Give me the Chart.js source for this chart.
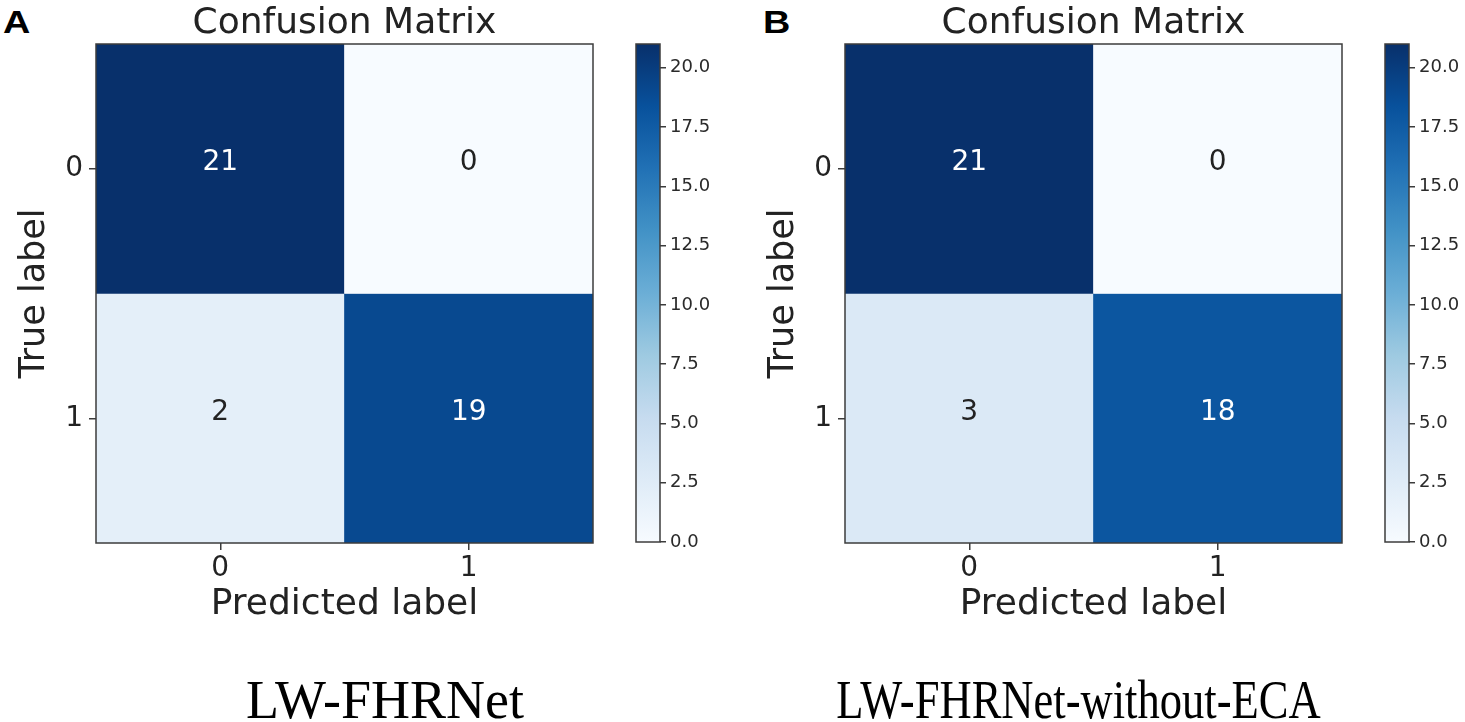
<!DOCTYPE html>
<html>
<head>
<meta charset="utf-8">
<script src="https://cdn.jsdelivr.net/npm/chart.js@4.4.1/dist/chart.umd.min.js"></script>
<style>
  body { margin: 0; background: #fff; width: 1465px; height: 722px; position: relative; overflow: hidden; }
  canvas, .txt { position: absolute; }
  .panel { font: bold 31px "Liberation Sans", Arial, sans-serif; line-height: 31px; top: 7px; color: #000; transform: scaleX(1.22); transform-origin: left center; }
  .caption { font: 54px "Liberation Serif", "Times New Roman", serif; line-height: 54px; top: 673px; color: #000; white-space: nowrap; transform-origin: center; }
</style>
</head>
<body>
<div class="txt panel" style="left:3px">A</div>
<div class="txt panel" style="left:763px">B</div>
<canvas id="matA" width="620" height="640" style="left:0;top:0"></canvas>
<canvas id="barA" width="100" height="640" style="left:620px;top:0"></canvas>
<canvas id="matB" width="620" height="640" style="left:749px;top:0"></canvas>
<canvas id="barB" width="100" height="640" style="left:1369px;top:0"></canvas>
<div class="txt caption" id="capA">LW-FHRNet</div>
<div class="txt caption" id="capB">LW-FHRNet-without-ECA</div>
<script>
  const classLabels = ['0', '1'];
  const matrixA = [[21, 0], [2, 19]];
  const matrixB = [[21, 0], [3, 18]];
  const colorMin = 0;
  const colorMax = 21;
  const colorbarTicks = [0, 2.5, 5, 7.5, 10, 12.5, 15, 17.5, 20];

  // matplotlib "Blues"
  const bluesStops = ['#f7fbff', '#deebf7', '#c6dbef', '#9ecae1', '#6baed6', '#4292c6', '#2171b5', '#08519c', '#08306b'];

  function hexRgb(h) {
    return [1, 3, 5].map(i => parseInt(h.substr(i, 2), 16));
  }

  function blues(t) {
    t = Math.max(0, Math.min(1, t));
    const n = bluesStops.length - 1;
    const i = Math.min(n - 1, Math.floor(t * n));
    const f = t * n - i;
    const a = hexRgb(bluesStops[i]), b = hexRgb(bluesStops[i + 1]);
    const c = a.map((v, k) => Math.round(v + (b[k] - v) * f));
    return `rgb(${c[0]},${c[1]},${c[2]})`;
  }

  const FONT = 'DejaVu Sans';
  const TEXT = '#222';
  const LINE = '#3c3c3c';

  const framePlugin = {
    id: 'frame',
    afterDraw(chart) {
      const { ctx, chartArea: a } = chart;
      ctx.save();
      ctx.strokeStyle = LINE;
      ctx.lineWidth = 1.5;
      ctx.strokeRect(a.left, a.top, a.right - a.left, a.bottom - a.top);
      ctx.restore();
    }
  };

  const titlePlugin = {
    id: 'areaTitle',
    afterDraw(chart) {
      const { ctx, chartArea: a } = chart;
      ctx.save();
      ctx.font = `36px "${FONT}"`;
      ctx.fillStyle = TEXT;
      ctx.textAlign = 'center';
      ctx.textBaseline = 'alphabetic';
      ctx.fillText('Confusion Matrix', (a.left + a.right) / 2, 33);
      ctx.restore();
    }
  };

  const cellTextPlugin = {
    id: 'cellText',
    afterDatasetsDraw(chart) {
      const ctx = chart.ctx;
      ctx.save();
      ctx.font = `28px "${FONT}"`;
      ctx.textAlign = 'center';
      ctx.textBaseline = 'middle';
      chart.data.datasets.forEach((ds, i) => {
        chart.getDatasetMeta(i).data.forEach((bar, j) => {
          const v = ds.values[j];
          ctx.fillStyle = v > (colorMax + colorMin) / 2 ? '#fff' : TEXT;
          ctx.fillText(String(v), bar.x, (bar.y + bar.base) / 2 - 6);
        });
      });
      ctx.restore();
    }
  };

  function makeMatrix(id, matrix) {
    new Chart(document.getElementById(id), {
      type: 'bar',
      data: {
        labels: classLabels,
        datasets: matrix.map((row, r) => ({
          data: row.map(() => [r, r + 1]),
          values: row,
          backgroundColor: row.map(v => blues((v - colorMin) / (colorMax - colorMin))),
          borderWidth: 0,
          grouped: false,
          barPercentage: 1,
          categoryPercentage: 1
        }))
      },
      options: {
        responsive: false,
        animation: false,
        layout: { padding: { top: 44, right: 27, left: 0, bottom: 0 } },
        plugins: { legend: { display: false }, tooltip: { enabled: false }, title: { display: false } },
        scales: {
          x: {
            type: 'category',
            ticks: { font: { family: FONT, size: 28 }, color: TEXT, padding: 2 },
            grid: { offset: false, drawOnChartArea: false, tickLength: 7, color: LINE, lineWidth: 1.5 },
            border: { display: false },
            title: { display: true, text: 'Predicted label', font: { family: FONT, size: 36 }, color: TEXT, padding: { top: 0, bottom: 14 } },
            afterFit: s => { s.height = 97; }
          },
          y: {
            type: 'linear',
            min: 0,
            max: classLabels.length,
            reverse: true,
            afterBuildTicks: s => { s.ticks = classLabels.map((_, i) => ({ value: i + 0.5 })); },
            ticks: { font: { family: FONT, size: 28 }, color: TEXT, padding: 6, callback: (v, i) => classLabels[i] },
            grid: { drawOnChartArea: false, tickLength: 7, color: LINE, lineWidth: 1.5 },
            border: { display: false },
            title: { display: true, text: 'True label', font: { family: FONT, size: 35 }, color: TEXT, padding: { top: 14, bottom: 0 } },
            afterFit: s => { s.width = 96; }
          }
        }
      },
      plugins: [framePlugin, titlePlugin, cellTextPlugin]
    });
  }

  function makeColorbar(id) {
    new Chart(document.getElementById(id), {
      type: 'bar',
      data: {
        labels: [''],
        datasets: [{
          data: [[colorMin, colorMax]],
          borderWidth: 0,
          barPercentage: 1,
          categoryPercentage: 1,
          backgroundColor: c => {
            const chart = c.chart;
            const y = chart.scales.y;
            if (!chart.chartArea || !y) return bluesStops[0];
            const y0 = y.getPixelForValue(colorMin), y1 = y.getPixelForValue(colorMax);
            if (!isFinite(y0) || !isFinite(y1)) return bluesStops[0];
            const g = chart.ctx.createLinearGradient(0, y0, 0, y1);
            bluesStops.forEach((s, i) => g.addColorStop(i / (bluesStops.length - 1), s));
            return g;
          }
        }]
      },
      options: {
        responsive: false,
        animation: false,
        layout: { padding: { left: 16, top: 44, bottom: 98, right: 0 } },
        plugins: { legend: { display: false }, tooltip: { enabled: false } },
        scales: {
          x: { display: false },
          y: {
            position: 'right',
            min: colorMin,
            max: colorMax,
            afterBuildTicks: s => { s.ticks = colorbarTicks.map(v => ({ value: v })); },
            ticks: { font: { family: FONT, size: 18 }, color: '#2a2a2a', padding: 4, callback: v => Number(v).toFixed(1) },
            grid: { drawOnChartArea: false, tickLength: 6, color: LINE, lineWidth: 1.5 },
            border: { display: false },
            afterFit: s => { s.width = 60; }
          }
        }
      },
      plugins: [framePlugin]
    });
  }

  makeMatrix('matA', matrixA);
  makeColorbar('barA');
  makeMatrix('matB', matrixB);
  makeColorbar('barB');

  // place captions by their centres
  function placeCaption(id, cx, sx) {
    const el = document.getElementById(id);
    el.style.transform = `scaleX(${sx})`;
    el.style.left = (cx - el.offsetWidth / 2) + 'px';
  }
  placeCaption('capA', 385, 1);
  placeCaption('capB', 1078, 0.825);
</script>
</body>
</html>
